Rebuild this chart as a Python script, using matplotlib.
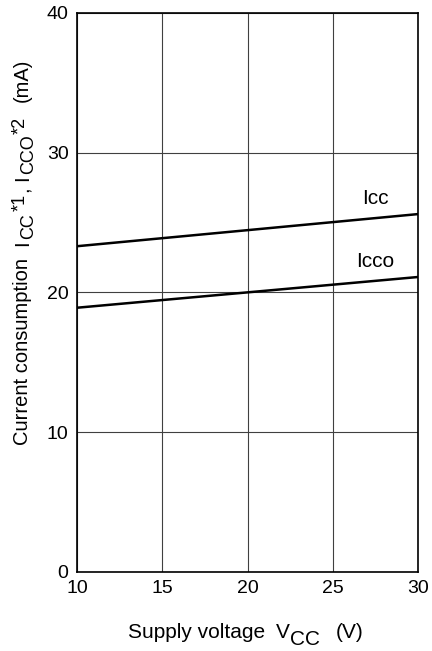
import matplotlib
matplotlib.use("Agg")
from matplotlib import pyplot as plt

plt.rcParams['font.family'] = ['Liberation Sans', 'DejaVu Sans']

# supply voltage (V) and current consumption (mA)
vcc = [10, 30]
icc = [23.3, 25.6]
icco = [18.9, 21.1]

xticks = [10, 15, 20, 25, 30]
yticks = [0, 10, 20, 30, 40]

# axis label pieces: text, size, shift up (px), gap before (px)
xlabel_parts = [('Supply voltage', 15, 0, 0), ('V', 15, 0, 11), ('CC', 15, -7, 0),
                ('(V)', 15, 0, 16)]
ylabel_parts = [('Current consumption', 14.5, 0, 0), ('I', 14.5, 0, 12), ('CC', 13, -5, 1),
                ('*1', 13, 3, 3), (',', 14.5, 0, 1), ('I', 14.5, 0, 6), ('CCO', 13, -5, 1),
                ('*2', 13, 3, 1), ('(mA)', 14.5, 0, 15)]

fig = plt.figure(figsize=(4.32, 6.51), dpi=100)
ax = fig.add_axes([0.178, 0.1214, 0.79, 0.859])

ax.plot(vcc, icc, color='black', lw=1.8)
ax.plot(vcc, icco, color='black', lw=1.8)
ax.text(27.5, 26.7, 'Icc', fontsize=15, ha='center', va='center')
ax.text(27.5, 22.2, 'Icco', fontsize=15, ha='center', va='center')

ax.set_xlim(10, 30)
ax.set_ylim(0, 40)
ax.set_xticks(xticks)
ax.set_yticks(yticks)
ax.tick_params(length=0, labelsize=14)
ax.tick_params(axis='x', pad=6)
ax.tick_params(axis='y', pad=6)
ax.grid(True, color='0.25', lw=0.8)
for s in ax.spines.values():
    s.set_linewidth(1.2)


def draw_label(parts, x0, y0, rot):
    # chain pieces one after another so sub/superscripts keep their size
    prev = None
    for s, size, up, gap in parts:
        if rot == 0:
            if prev is None:
                xy, coords = (x0, y0 + up), 'figure pixels'
            else:
                xy, coords = (1, y0 + up), (prev, 'figure pixels')
            off = (gap, 0)
        else:
            if prev is None:
                xy, coords = (x0 - up, y0), 'figure pixels'
            else:
                xy, coords = (x0 - up, 1), ('figure pixels', prev)
            off = (0, gap)
        prev = ax.annotate(s, xy=xy, xycoords=coords, xytext=off, textcoords='offset pixels',
                           fontsize=size, rotation=rot, rotation_mode='anchor',
                           ha='left', va='baseline', annotation_clip=False)


draw_label(xlabel_parts, 128, 13, 0)
draw_label(ylabel_parts, 28, 206, 90)

fig.savefig('out.png')
